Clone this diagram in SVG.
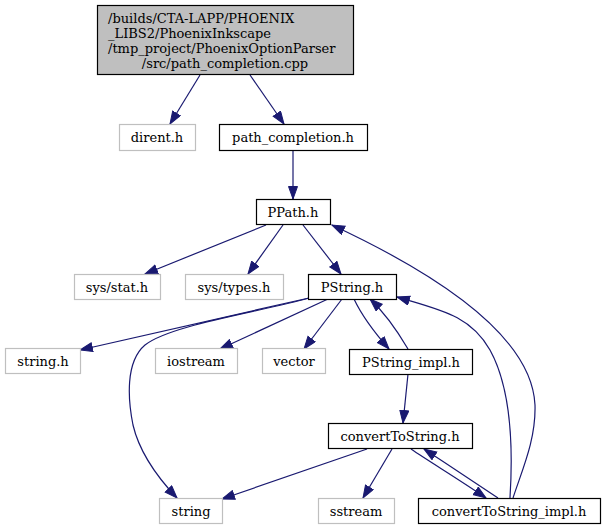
<svg xmlns="http://www.w3.org/2000/svg" width="605" height="529" viewBox="0 0 605 529">
<style>
.n rect{fill:#fff;stroke:#000;stroke-width:1.2}
.n.g rect{stroke:#bfbfbf}
.n.top rect{fill:#bfbfbf;stroke:#000}
text{font-family:"DejaVu Serif",serif;font-size:13px;fill:#000}
.m{text-anchor:middle}
.e path{fill:none;stroke:#191970;stroke-width:1.2;marker-end:url(#ah)}
</style>
<defs>
<marker id="ah" markerUnits="userSpaceOnUse" markerWidth="14" markerHeight="11" refX="13" refY="5" orient="auto" viewBox="0 0 14 11">
<path d="M0.5,0.5 L13,5 L0.5,9.5 z" fill="#191970" stroke="#191970" stroke-width="1"/>
</marker>
</defs>
<rect width="605" height="529" fill="#fff"/>
<g class="e" id="edges">
<path d="M200,75 L170,124"/>
<path d="M250,75 L284,124"/>
<path d="M293,150 L293,199"/>
<path d="M266,225 L145,274"/>
<path d="M283,225 L248,274"/>
<path d="M303,225 L341,274"/>
<path d="M513,498 C522,470 536,440 535,405 C532,340 450,280 332,225"/>
<path d="M510,498 C513,450 512,390 490,350 C470,315 440,310 397,297"/>
<path d="M309,298 L80,350"/>
<path d="M309,298 C260,312 170,325 145,345 C125,362 128,400 133,425 C140,455 160,480 177,498"/>
<path d="M328,299 L220,349"/>
<path d="M342,299 L304,349"/>
<path d="M354,299 C362,316 374,332 389,349"/>
<path d="M408,349 C398,332 386,314 370,299"/>
<path d="M408,374 L403,423"/>
<path d="M367,449 L222,499"/>
<path d="M392,449 L363,498"/>
<path d="M411,449 C430,462 460,480 486,498"/>
<path d="M498,498 C480,486 450,466 424,449"/>
</g>
<g class="n top" id="node_main">
<rect x="97.5" y="5.5" width="256" height="69"/>
<text x="108" y="23">/builds/CTA-LAPP/PHOENIX</text>
<text x="108" y="38">_LIBS2/PhoenixInkscape</text>
<text x="108" y="53">/tmp_project/PhoenixOptionParser</text>
<text x="225" y="68" class="m">/src/path_completion.cpp</text>
</g>
<g class="n g" id="node_dirent"><rect x="119.5" y="124.5" width="76" height="26"/><text x="157" y="142" class="m">dirent.h</text></g>
<g class="n" id="node_path_completion"><rect x="219.5" y="124.5" width="148" height="26"/><text x="293" y="142" class="m">path_completion.h</text></g>
<g class="n" id="node_PPath"><rect x="256.5" y="199.5" width="74" height="25"/><text x="293" y="217" class="m">PPath.h</text></g>
<g class="n g" id="node_sysstat"><rect x="74.5" y="274.5" width="86" height="25"/><text x="117" y="292" class="m">sys/stat.h</text></g>
<g class="n g" id="node_systypes"><rect x="185.5" y="274.5" width="98" height="25"/><text x="234" y="292" class="m">sys/types.h</text></g>
<g class="n" id="node_PString"><rect x="308.5" y="274.5" width="88" height="25"/><text x="352" y="292" class="m">PString.h</text></g>
<g class="n g" id="node_stringh"><rect x="5.5" y="348.5" width="75" height="25"/><text x="43" y="366" class="m">string.h</text></g>
<g class="n g" id="node_iostream"><rect x="155.5" y="348.5" width="82" height="25"/><text x="196" y="366" class="m">iostream</text></g>
<g class="n g" id="node_vector"><rect x="262.5" y="348.5" width="63" height="25"/><text x="294" y="366" class="m">vector</text></g>
<g class="n" id="node_PString_impl"><rect x="349.5" y="349.5" width="123" height="25"/><text x="411" y="367" class="m">PString_impl.h</text></g>
<g class="n" id="node_convertToString"><rect x="328.5" y="423.5" width="144" height="25"/><text x="400" y="441" class="m">convertToString.h</text></g>
<g class="n g" id="node_string"><rect x="159.5" y="498.5" width="63" height="25"/><text x="191" y="516" class="m">string</text></g>
<g class="n g" id="node_sstream"><rect x="318.5" y="498.5" width="76" height="25"/><text x="356" y="516" class="m">sstream</text></g>
<g class="n" id="node_convertToString_impl"><rect x="418.5" y="498.5" width="182" height="25"/><text x="509" y="516" class="m">convertToString_impl.h</text></g>
</svg>
